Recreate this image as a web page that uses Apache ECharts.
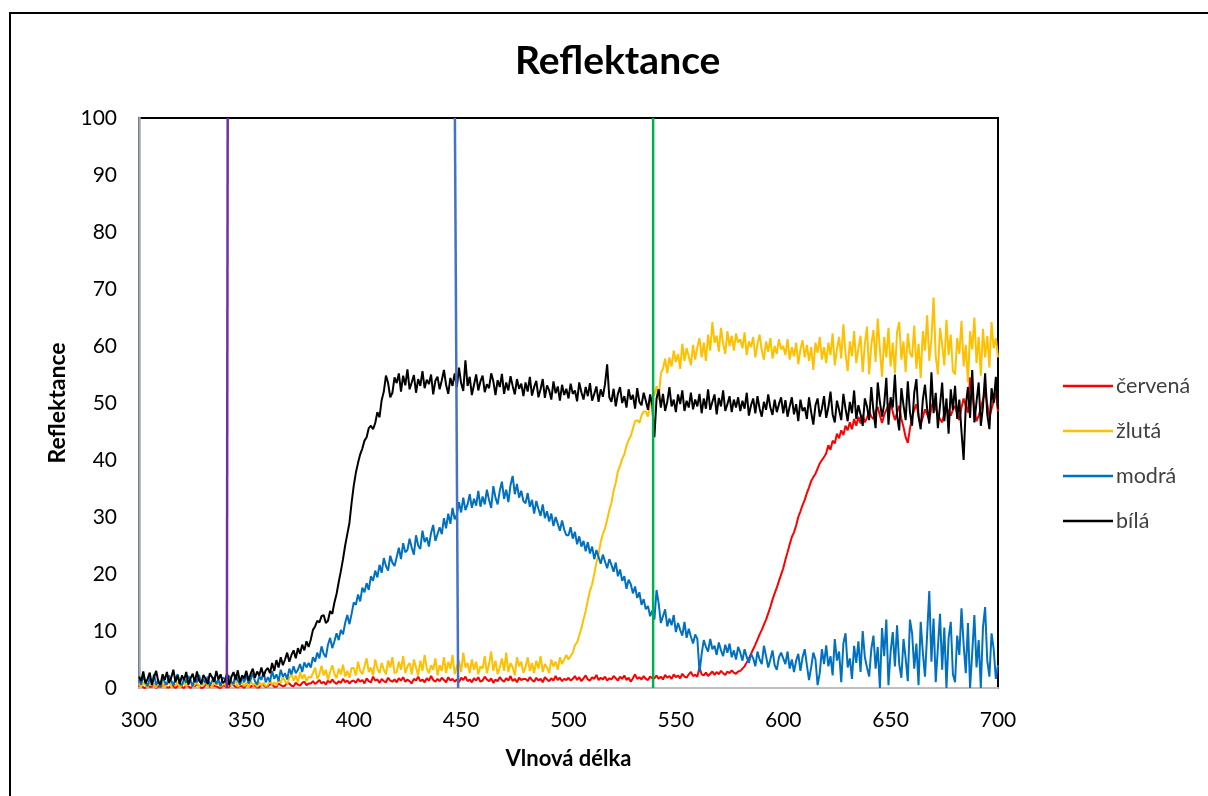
<!DOCTYPE html>
<html>
<head>
<meta charset="utf-8">
<script src="https://cdn.jsdelivr.net/npm/echarts@6/dist/echarts.min.js"></script>
<style>html,body{margin:0;padding:0;background:#fff;}#c{width:1208px;height:796px;}</style>
</head>
<body>
<div id="c"></div>
<script>
// Wavelength sampling grid (nm), 1 nm step from 300 to 700
const wavelengths = Array.from({length: 401}, (_, i) => 300 + i);

const seriesNames = ['červená', 'žlutá', 'modrá', 'bílá'];

// one row = 20 nm
const cervena = [
0.3,0.6,0.1,0.0,0.5,0.2,0.2,0.7,0.0,0.3,0.2,0.5,0.6,0.1,0.1,0.4,0.3,0.0,0.3,0.5,
0.2,0.0,0.5,0.3,0.0,0.4,0.3,0.6,0.4,0.0,0.1,0.5,0.6,0.2,0.2,0.4,0.3,0.1,0.0,0.4,
0.4,0.1,0.2,0.6,0.5,0.2,0.1,0.4,0.3,0.0,0.6,0.3,0.2,0.5,0.4,0.1,0.1,0.6,0.5,0.2,
0.3,0.6,0.7,0.2,0.2,0.8,0.5,0.3,0.4,0.9,0.8,0.4,0.3,0.9,0.6,0.4,0.9,1.1,0.5,0.8,
0.8,1.2,0.7,1.0,1.4,0.8,1.1,0.6,1.3,0.9,1.5,1.0,0.7,1.2,0.9,1.6,1.0,1.3,0.8,1.2,
1.3,0.9,1.6,1.1,1.4,0.8,1.7,1.2,1.0,2.0,1.3,1.5,0.9,1.6,1.2,1.0,1.8,1.3,1.1,1.5,
1.0,1.7,1.3,1.9,1.1,1.5,1.2,0.8,1.6,1.3,2.0,1.2,1.5,1.0,1.7,1.3,2.1,1.4,1.1,1.6,
1.2,1.8,1.4,1.0,1.9,1.3,1.6,1.1,1.5,1.0,1.8,1.4,2.0,1.2,1.5,1.0,1.7,1.3,1.9,1.1,
1.3,2.0,1.5,1.2,1.7,0.9,1.5,1.2,1.9,1.4,1.1,1.7,1.3,2.1,1.2,1.6,1.0,1.8,1.4,1.6,
1.6,1.2,1.9,1.4,1.1,1.8,1.3,1.6,1.0,1.9,1.5,1.2,1.7,1.3,2.1,1.4,1.8,1.2,1.6,1.4,
1.8,1.3,1.6,2.1,1.4,1.9,1.2,1.7,2.2,1.5,1.3,1.9,1.6,2.3,1.4,1.8,1.5,2.0,1.3,1.7,
1.5,2.1,1.7,1.3,2.0,1.6,2.2,1.4,1.8,1.1,1.7,2.4,1.6,1.9,1.5,2.1,1.6,1.4,2.0,1.7,
1.7,2.2,1.6,2.0,1.5,2.3,1.8,2.1,1.6,2.4,1.9,2.2,1.7,2.5,2.0,1.8,2.4,2.8,2.1,2.3,
2.0,3.6,2.4,2.2,2.7,2.1,2.5,2.9,2.3,2.8,2.4,3.0,2.6,2.3,2.9,2.6,3.1,2.7,2.5,2.9,
3.0,3.4,3.8,4.5,5.2,6.0,6.8,7.6,8.5,9.4,10.2,11.1,12.0,13.1,14.2,15.5,16.6,17.6,18.8,19.9,
21.0,22.5,23.8,25.2,26.5,27.3,28.5,30.0,31.0,32.1,33.0,34.2,35.2,36.3,37.0,37.6,38.5,39.4,40.0,40.5,
41.2,42.6,41.8,43.4,42.9,44.6,43.8,45.2,44.4,46.0,45.2,46.6,45.4,47.2,46.0,47.6,46.4,47.9,46.6,47.4,
48.5,47.6,47.2,48.5,49.3,47.8,46.5,47.9,48.8,49.6,50.2,48.4,47.0,48.3,49.5,47.2,45.8,44.0,43.0,45.5,
47.5,48.8,49.8,47.8,46.2,47.5,48.9,48.0,47.1,49.2,50.5,49.0,48.0,47.2,46.6,48.3,49.2,48.5,47.8,48.8,
49.5,48.1,47.0,49.2,50.8,49.5,48.3,54.5,51.5,48.9,46.8,47.8,49.0,50.6,52.0,49.8,47.5,49.0,50.3,51.8,
48.5];

const zluta = [
0.8,0.2,1.0,0.5,0.0,1.2,0.4,0.7,0.1,1.1,0.3,0.9,0.0,0.6,1.2,0.2,0.8,0.4,1.0,0.1,
0.5,1.1,0.3,0.8,1.3,0.2,0.6,1.0,0.1,0.9,0.4,1.2,0.3,0.7,0.0,1.1,0.5,0.9,0.2,0.6,
0.7,0.1,1.0,0.4,0.8,1.3,0.2,0.6,1.0,0.3,0.9,0.1,1.2,0.5,0.8,0.2,1.1,0.4,0.9,0.3,
0.5,1.3,0.6,1.0,0.4,1.6,0.9,2.0,1.2,0.7,1.8,2.5,1.3,2.2,1.0,2.8,1.6,2.4,1.2,2.0,
1.8,2.6,3.6,1.6,2.4,3.9,2.2,3.2,1.4,2.8,4.0,2.5,1.7,3.4,2.4,4.1,2.0,3.0,1.8,3.5,
3.5,2.2,4.6,3.0,2.4,3.8,5.2,2.8,3.6,2.2,5.0,3.4,2.6,4.4,3.2,2.4,4.8,3.6,5.4,2.6,
2.8,4.6,3.2,5.6,2.6,3.8,4.4,2.4,5.0,3.6,2.2,4.8,3.0,5.8,3.4,2.6,4.0,3.2,5.2,2.2,
4.0,3.0,5.4,2.6,4.6,3.4,5.8,2.4,3.8,4.8,2.8,6.2,3.6,4.4,2.6,5.0,3.2,4.6,2.4,3.8,
3.4,5.6,2.6,4.2,6.4,3.0,4.8,2.4,3.6,5.2,3.0,6.2,2.8,4.4,3.6,2.2,5.4,3.8,4.6,2.6,
3.7,5.4,3.0,4.4,2.6,4.8,3.4,5.6,2.8,4.2,3.6,2.6,5.0,3.8,4.6,3.2,5.4,4.2,5.0,5.8,
5.0,5.6,6.2,7.5,8.0,9.2,10.5,12.0,13.5,15.4,17.0,18.2,20.0,22.0,23.5,25.6,27.0,28.0,29.5,31.2,
32.5,34.6,36.0,38.0,39.0,40.2,41.0,42.5,43.5,44.2,45.5,46.8,47.0,46.5,47.8,48.5,48.5,47.6,50.0,51.0,
51.5,53.0,50.5,55.2,56.0,57.8,55.2,58.0,56.4,59.2,57.2,58.6,56.0,60.4,57.4,59.6,58.2,56.6,60.2,57.6,
59.8,61.4,58.0,60.6,57.4,62.0,59.2,64.2,60.6,61.8,59.0,63.2,60.4,58.6,62.6,60.0,61.8,59.2,62.2,60.6,
61.2,59.6,62.4,58.4,60.8,59.8,61.6,58.0,60.4,62.0,59.2,57.6,60.8,59.0,61.4,57.8,60.0,58.6,61.2,59.4,
60.0,58.4,61.2,57.6,59.8,58.2,60.6,56.8,59.4,61.0,58.0,60.2,57.4,59.8,55.8,60.6,58.8,61.6,57.6,59.8,
57.0,60.6,58.4,62.2,56.6,59.4,61.6,57.8,63.8,58.6,55.6,60.8,58.2,62.6,57.0,59.6,61.8,55.4,60.4,63.4,
55.0,60.2,62.8,57.2,64.8,59.4,54.6,61.6,58.0,63.2,56.4,60.6,55.2,62.4,64.2,57.6,60.8,55.4,62.2,58.8,
58.0,63.6,56.0,60.4,54.4,62.6,59.2,65.4,57.4,61.2,68.5,58.2,55.0,63.2,60.2,56.6,64.6,58.4,62.0,55.6,
55.0,61.4,58.6,64.4,56.4,60.2,53.6,62.6,59.4,65.0,57.0,61.6,54.8,63.0,58.0,61.8,56.2,64.2,59.6,61.4,
58.0];

const modra = [
1.5,0.6,2.0,1.1,0.3,1.8,0.9,2.4,0.5,1.4,0.2,1.9,1.0,0.6,2.2,1.3,0.4,1.7,2.4,0.8,
0.5,1.6,0.9,2.1,1.3,0.3,1.8,1.0,2.3,0.6,1.5,0.9,2.0,0.4,1.2,1.9,0.7,1.5,0.3,1.8,
1.6,0.5,2.2,1.1,0.7,2.4,1.3,0.6,1.9,1.0,2.3,0.8,1.5,2.6,1.2,0.6,2.1,1.4,2.8,1.0,
1.9,1.1,3.0,1.6,2.4,1.2,3.2,2.0,2.6,1.5,3.4,2.4,3.8,2.6,3.2,4.2,2.8,4.5,3.6,4.4,
3.6,5.4,4.6,6.2,5.2,7.3,6.0,5.4,7.6,8.8,7.0,8.2,9.6,8.4,10.2,9.4,11.4,12.8,11.2,13.0,
15.0,14.6,16.4,15.2,17.6,16.8,18.4,17.2,19.6,18.8,20.6,19.4,21.6,20.2,22.8,21.4,20.6,23.2,22.0,21.4,
23.0,24.6,22.6,25.4,23.8,24.2,26.2,24.6,23.4,26.8,25.0,24.4,27.6,25.6,26.4,24.8,27.2,28.6,25.8,27.0,
28.2,27.0,29.8,28.0,30.6,28.8,31.6,29.6,30.4,32.6,30.8,33.4,31.2,32.2,34.0,31.6,33.2,32.0,34.6,31.8,
33.6,32.2,34.8,33.0,31.6,35.4,33.4,32.2,34.6,36.2,33.2,34.8,32.6,35.6,37.2,34.0,35.8,33.4,34.6,32.8,
32.4,34.2,31.8,33.0,30.6,32.8,31.4,30.2,32.2,29.8,31.0,29.2,30.6,28.4,30.0,28.8,27.6,29.4,27.8,26.8,
26.8,28.2,26.2,27.4,25.2,26.6,24.8,25.8,24.0,25.6,23.6,24.8,22.6,24.2,23.0,21.8,23.4,22.2,21.0,22.6,
21.6,20.4,22.0,19.6,20.8,18.8,19.6,17.4,19.0,18.2,16.6,17.8,15.8,16.8,14.6,15.6,13.8,14.4,12.6,13.6,
12.0,17.2,14.8,11.4,12.6,13.8,10.8,12.2,11.0,12.8,9.8,11.4,10.2,9.2,11.6,8.8,10.4,9.0,7.8,9.4,
8.6,2.8,6.0,8.4,7.2,6.4,8.6,6.8,7.4,5.8,8.0,6.6,5.6,7.6,6.2,7.8,5.4,6.6,5.0,7.2,
6.2,4.8,6.8,5.4,4.4,6.0,5.2,3.8,6.4,5.0,4.2,7.4,5.6,3.6,5.0,6.6,4.0,3.2,5.4,6.2,
5.2,4.2,6.4,3.4,5.0,2.8,4.8,6.0,3.0,5.4,6.8,4.0,1.4,3.6,6.2,5.0,0.5,2.6,6.8,4.2,
7.5,3.8,5.6,2.2,8.6,4.8,6.4,1.0,7.8,9.6,3.6,5.2,1.6,7.4,4.4,8.2,2.8,10.0,5.4,3.6,
2.0,6.8,9.2,3.4,7.2,0.0,10.5,5.6,12.0,0.5,6.4,9.8,3.8,11.0,4.2,1.8,8.6,5.2,1.2,12.0,
9.6,3.4,7.8,0.5,11.6,6.2,2.0,9.4,17.0,4.6,12.2,1.0,7.0,13.0,3.2,10.6,0.0,8.8,11.6,2.4,
1.0,9.2,5.8,14.0,7.6,2.6,11.4,0.0,6.2,12.8,3.6,8.4,0.0,10.6,14.2,4.8,2.0,9.6,6.8,1.6,
4.0];

const bila = [
2.0,1.2,2.9,0.8,1.6,2.7,0.5,1.9,3.0,1.1,0.6,2.4,1.4,2.8,0.9,1.8,3.2,1.0,2.2,0.7,
2.2,1.4,2.8,0.6,1.7,2.5,1.0,2.9,1.3,0.8,2.3,1.6,0.7,2.6,1.9,1.1,3.0,1.5,2.4,0.9,
1.2,2.6,0.5,1.9,2.8,1.4,3.1,1.0,2.2,1.7,3.0,1.3,2.5,3.4,1.8,2.9,2.2,3.6,2.0,3.1,
3.5,2.6,4.4,3.0,4.9,3.6,5.4,4.0,5.0,6.2,4.6,5.8,6.6,5.2,7.0,6.0,7.6,6.6,8.2,7.2,
8.5,10.2,10.8,11.8,11.5,12.6,12.8,11.4,11.8,13.5,13.0,15.0,16.5,18.6,20.5,22.6,25.0,27.0,29.0,32.5,
35.5,37.8,39.5,41.0,42.0,43.4,44.0,45.6,46.0,45.4,46.5,48.4,47.5,50.5,52.0,54.8,53.5,51.0,51.8,54.5,
53.5,55.2,52.0,54.8,53.1,55.9,52.4,53.6,54.9,51.8,54.2,53.0,55.6,52.6,54.1,53.3,55.0,51.5,53.9,54.6,
52.4,54.0,55.8,53.2,51.6,54.4,53.0,55.2,52.8,56.2,53.5,52.1,57.5,53.0,54.6,51.4,53.2,55.0,52.2,53.8,
54.8,51.9,53.3,52.6,55.2,53.8,51.4,54.0,52.8,55.1,51.6,53.6,52.2,54.7,53.0,51.5,54.2,52.5,53.4,51.2,
53.6,52.0,54.6,51.3,52.8,53.9,51.0,52.4,54.2,50.9,53.1,52.2,50.6,53.8,51.7,52.9,50.4,53.2,51.4,52.5,
50.8,53.4,51.6,52.2,50.3,53.6,51.9,50.6,52.8,51.2,53.5,50.4,51.6,52.9,50.2,52.4,51.1,53.3,56.8,51.0,
50.2,52.5,49.4,51.6,52.8,50.0,51.2,49.2,52.4,50.6,51.4,49.0,52.6,50.2,49.6,51.8,50.4,48.8,51.5,49.6,
44.0,50.8,52.4,49.2,51.6,48.6,50.2,52.8,49.4,50.6,48.4,51.5,49.8,52.2,48.6,50.4,49.2,51.8,48.9,50.6,
49.4,51.6,48.2,50.8,49.0,52.4,48.8,50.2,51.5,48.0,50.9,49.4,52.2,48.6,49.8,51.2,48.4,50.6,49.2,51.0,
48.6,50.4,49.0,51.8,47.8,49.6,50.8,48.2,51.2,49.0,47.6,50.2,48.8,51.5,49.2,47.9,50.6,48.4,49.8,51.0,
48.2,50.5,47.6,49.4,51.0,48.0,49.8,46.8,50.6,48.6,49.2,47.2,51.0,48.4,46.2,49.6,50.8,47.6,49.0,51.2,
47.4,49.2,52.0,48.0,46.6,50.4,48.8,47.0,51.6,49.0,46.8,50.2,48.2,52.2,47.2,49.6,48.0,46.0,50.8,49.4,
47.0,52.8,48.6,45.6,53.6,50.2,47.6,49.8,54.4,46.2,51.0,49.2,55.0,47.8,45.2,52.6,49.6,47.0,53.8,48.4,
46.0,51.8,54.2,47.6,45.4,50.6,53.2,49.0,46.4,55.4,48.2,51.8,45.6,49.6,53.6,46.8,50.8,44.6,52.4,48.8,
53.0,47.2,50.6,45.0,40.0,49.6,52.8,47.4,55.8,46.6,50.2,53.6,46.0,49.4,55.2,48.0,45.4,52.6,50.0,54.6,
49.0];

// Vertical marker lines (wavelength at bottom, wavelength at top)
const markerLines = [
  {name: 'fialová', bottom: 340.9, top: 341.3},
  {name: 'modrá čára', bottom: 448.6, top: 447.1},
  {name: 'zelená', bottom: 539.4, top: 539.4}
];
const markerRange = [0, 100];

const xTicks = [300, 700, 50];
const yTicks = [0, 100, 10];

const colors = ['#FF0000', '#FFC000', '#0070C0', '#000000'];
const markerColors = ['#7030A0', '#4472C4', '#00B050'];

const values = [cervena, zluta, modra, bila];
const FONT = 'Lato, "Open Sans", sans-serif';

const series = values.map((vals, k) => ({
  name: seriesNames[k],
  type: 'line',
  data: wavelengths.map((w, i) => [w, vals[i]]),
  showSymbol: false,
  symbol: 'none',
  lineStyle: {color: colors[k], width: 2},
  itemStyle: {color: colors[k]},
  z: 2 + k,
  animation: false
}));
markerLines.forEach((m, k) => {
  series.push({
    name: m.name,
    type: 'line',
    data: [[m.bottom, markerRange[0]], [m.top, markerRange[1]]],
    showSymbol: false,
    symbol: 'none',
    lineStyle: {color: markerColors[k], width: 2.5},
    z: 10,
    animation: false
  });
});

const lenCheck = values.map(v => v.length).join(',');
const graphics = [{
  type: 'rect',
  shape: {x: 10, y: 13, width: 1400, height: 1000},
  style: {fill: 'none', stroke: '#000', lineWidth: 2},
  silent: true, z: 0
}];
if (values.some(v => v.length !== wavelengths.length)) {
  graphics.push({type: 'text', left: 20, top: 20, style: {text: 'LEN ' + lenCheck, fill: 'red', fontSize: 16}});
}

const chart = echarts.init(document.getElementById('c'), null, {renderer: 'canvas'});
chart.setOption({
  animation: false,
  backgroundColor: '#fff',
  graphic: graphics,
  title: {
    text: 'Reflektance',
    left: 510,
    top: 37,
    textStyle: {fontFamily: FONT, fontSize: 39, fontWeight: 'bold', color: '#000'}
  },
  legend: {
    data: seriesNames,
    orient: 'vertical',
    left: 1058,
    top: 370,
    icon: 'rect',
    itemWidth: 50,
    itemHeight: 2.5,
    itemGap: 23,
    textStyle: {fontFamily: FONT, fontSize: 21.5, color: '#404040', lineHeight: 22, padding: [0, 0, 0, -2]}
  },
  grid: {
    left: 139, right: 210, top: 118, bottom: 108,
    show: true, borderColor: '#000', borderWidth: 2, backgroundColor: 'transparent'
  },
  xAxis: {
    type: 'value',
    min: xTicks[0], max: xTicks[1], interval: xTicks[2],
    name: 'Vlnová délka',
    nameLocation: 'middle',
    nameGap: 60,
    nameTextStyle: {fontFamily: FONT, fontSize: 22, fontWeight: 'bold', color: '#000'},
    axisLine: {show: true, lineStyle: {color: '#BFBFBF', width: 2}},
    axisTick: {show: false},
    splitLine: {show: false},
    axisLabel: {fontFamily: FONT, fontSize: 21, color: '#000', margin: 22}
  },
  yAxis: {
    type: 'value',
    min: yTicks[0], max: yTicks[1], interval: yTicks[2],
    name: 'Reflektance',
    nameLocation: 'middle',
    nameGap: 68,
    nameTextStyle: {fontFamily: FONT, fontSize: 23, fontWeight: 'bold', color: '#000'},
    axisLine: {show: true, lineStyle: {color: '#A0A7B8', width: 2.5}},
    axisTick: {show: false},
    splitLine: {show: false},
    axisLabel: {fontFamily: FONT, fontSize: 21, color: '#000', margin: 22}
  },
  series: series
});
</script>
</body>
</html>
